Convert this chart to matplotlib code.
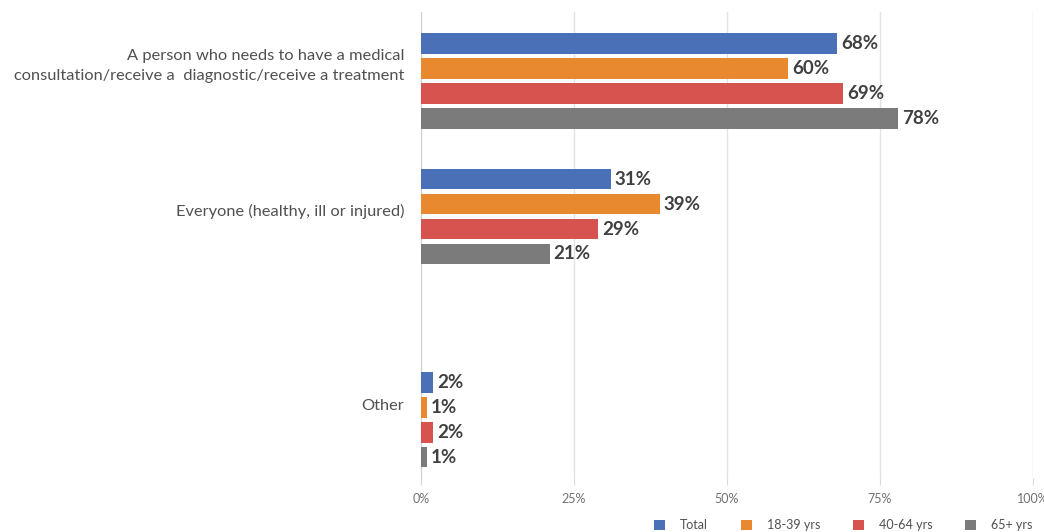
import numpy as np
import matplotlib.pyplot as plt
import matplotlib.transforms as mtransforms
from matplotlib.patches import Patch

plt.rcParams['font.family'] = ['Lato', 'DejaVu Sans']

categories = [
    'A person who needs to have a medical\nconsultation/receive a  diagnostic/receive a treatment',
    'Everyone (healthy, ill or injured)',
    'Other',
]
series = ['Total', '18-39 yrs', '40-64 yrs', '65+ yrs']
values = {
    'Total': [68, 31, 2],
    '18-39 yrs': [60, 39, 1],
    '40-64 yrs': [69, 29, 2],
    '65+ yrs': [78, 21, 1],
}
colors = ['#4a70b8', '#e8892f', '#d6534f', '#7b7b7b']
xticks = [0, 25, 50, 75, 100]

# group centres are not evenly spaced in this layout
group_pos = np.array([0.0, 1.0, 2.5])
step = 0.184
bar_h = 0.152

fig = plt.figure(figsize=(10.44, 5.32), dpi=100)
ax = fig.add_axes([421 / 1044, 1 - 478 / 532, 612 / 1044, 466 / 532])

for i, (name, col) in enumerate(zip(series, colors)):
    y = group_pos + (i - 1.5) * step
    bars = ax.barh(y, values[name], height=bar_h, color=col, zorder=3)
    for b, v in zip(bars, values[name]):
        ax.text(b.get_width() + 0.6, b.get_y() + b.get_height() / 2, f'{v}%',
                va='center', ha='left', fontsize=13.5, fontweight='bold',
                color='#404040', zorder=4)

ax.set_xlim(0, 100)
ax.set_ylim(2.93, -0.51)
ax.set_xticks(xticks)
ax.set_xticklabels([f'{t}%' for t in xticks], fontsize=9, color='#707070')
ax.set_yticks(group_pos)
ax.set_yticklabels(categories, fontsize=11.8, color='#505050', linespacing=1.55)
ax.tick_params(axis='y', length=0, pad=12)
ax.tick_params(axis='x', length=5, color='#d9d9d9', pad=6)

# category labels sit a little above their bar groups
for lbl, up in zip(ax.get_yticklabels(), [20, 7, 15]):
    shift = mtransforms.ScaledTranslation(0, up / 100, fig.dpi_scale_trans)
    lbl.set_transform(lbl.get_transform() + shift)

ax.grid(axis='x', color='#e3e3e3', linewidth=1, zorder=0)
for s in ['top', 'right', 'bottom']:
    ax.spines[s].set_visible(False)
ax.spines['left'].set_color('#d0d0d0')

handles = [Patch(facecolor=c, edgecolor='none') for c in colors]
fig.legend(handles, series, loc='lower right', ncol=4, frameon=False,
           fontsize=9, handlelength=0.9, handleheight=0.9,
           columnspacing=2.6, handletextpad=1.2,
           bbox_to_anchor=(1.0, -0.02), labelcolor='#505050')

fig.savefig('out.png', dpi=100)
